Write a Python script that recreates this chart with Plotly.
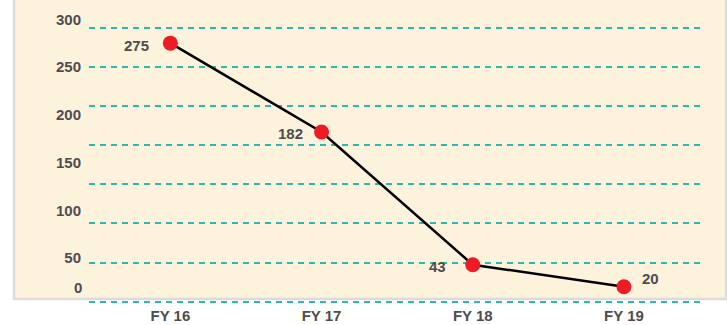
import plotly.graph_objects as go

# Fiscal years and values
years = ["FY 16", "FY 17", "FY 18", "FY 19"]
values = [275, 182, 43, 20]

# Y-axis tick labels
y_ticks = [50, 100, 150, 200, 250, 300]
zero_label = 0

# Label offsets (px) for each point's value label
label_dx = [-34, -31, -35, 27]
label_dy = [-2, -2, -2, 8]

FONT = "Liberation Sans"
FSIZE = 15
TEXT_COLOR = "#4d4d4f"
PANEL = "#fdf3dc"
BORDER = "#dcdcdc"
GRID = "#2eb8ae"

font = dict(family=FONT, size=FSIZE, color=TEXT_COLOR, weight="bold")

fig = go.Figure()

# invisible trace that carries the decorative dashed grid axis
fig.add_trace(go.Scatter(x=[], y=[], yaxis="y2", showlegend=False, hoverinfo="skip"))

fig.add_trace(go.Scatter(
    x=years, y=values, mode="lines+markers",
    line=dict(color="black", width=2.5),
    marker=dict(color="#ed1c24", size=15),
    showlegend=False, hoverinfo="skip", cliponaxis=False,
))

for x, v, dx, dy in zip(years, values, label_dx, label_dy):
    fig.add_annotation(x=x, y=v, text=str(v), showarrow=False,
                       xshift=dx, yshift=dy, font=font)

# "0" label sits above the panel's bottom edge
fig.add_annotation(x=0, xref="paper", y=zero_label, yref="y", text=str(zero_label),
                   showarrow=False, xanchor="right", xshift=-5, yshift=18, font=font)

# cream panel with grey border
fig.add_shape(type="rect", xref="paper", yref="paper",
              x0=-0.1218, x1=1.0341, y0=0.0229, y1=1.05,
              fillcolor=PANEL, line=dict(color=BORDER, width=2.5), layer="below")

fig.update_layout(
    width=727, height=325,
    margin=dict(l=89, r=22, t=0, b=19),
    paper_bgcolor="white",
    plot_bgcolor="rgba(0,0,0,0)",
    font=font,
    xaxis=dict(
        type="category", range=[-0.538, 3.536], automargin=False,
        showgrid=False, zeroline=False, showline=False,
        ticks="", ticklabelstandoff=-1,
        tickfont=font,
    ),
    yaxis=dict(
        range=[-0.21, 320.2], tickvals=y_ticks, automargin=False,
        showgrid=False, zeroline=False, showline=False,
        ticks="outside", ticklen=4, tickcolor="rgba(0,0,0,0)",
        tickfont=font,
    ),
    yaxis2=dict(
        overlaying="y", side="left", range=[-0.11, 7.708], automargin=False,
        tickvals=list(range(8)), showticklabels=False,
        showgrid=True, gridcolor=GRID, gridwidth=1.6, griddash="6px,5px",
        zeroline=False, showline=False,
    ),
)

fig.write_html("out.html")
